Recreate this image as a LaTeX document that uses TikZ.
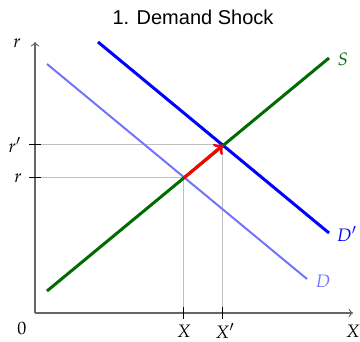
\documentclass[tikz,border=0pt]{standalone}
\usepackage{mathpazo}
\usepackage{fontspec}
\newfontfamily\titlefont{Liberation Sans}
\begin{document}
\begin{tikzpicture}[x=0.5pt,y=-0.5pt,
  axisline/.style={draw=black!60,line width=0.6pt,->},
  guide/.style={draw=black!25,line width=0.5pt},
  tickmark/.style={draw=black,line width=0.5pt},
  curve/.style={line width=1.5pt},
  lbl/.style={inner sep=0pt,font=\small}]
\useasboundingbox (0,0) rectangle (360,342);
\node[font=\titlefont] (title) at (193,17) {1. Demand Shock};
\coordinate (O) at (35,313);
\coordinate (Xend) at (353,313);
\coordinate (Yend) at (35,42);
\coordinate (E) at (184,178);
\coordinate (Ep) at (223,145);
% guides
\draw[guide] (O |- E) -- (E) -- (E |- O);
\draw[guide] (O |- Ep) -- (Ep) -- (Ep |- O);
% axes
\draw[axisline] (O) -- (Xend);
\draw[axisline] (O) -- (Yend);
% ticks
\draw[tickmark] ([xshift=-3pt]O |- E) -- ([xshift=3pt]O |- E);
\draw[tickmark] ([xshift=-3pt]O |- Ep) -- ([xshift=3pt]O |- Ep);
\draw[tickmark] ([yshift=-3pt]E |- O) -- ([yshift=3pt]E |- O);
\draw[tickmark] ([yshift=-3pt]Ep |- O) -- ([yshift=3pt]Ep |- O);
% curves
\coordinate (D1) at (47,64);   \coordinate (D2) at (307,279);
\coordinate (Dp1) at (98,42);  \coordinate (Dp2) at (329,233);
\coordinate (S1) at (47,291);  \coordinate (S2) at (329,58);
\draw[curve,line width=1pt,draw=blue!55!white] (D1) -- (D2);
\draw[curve,draw=blue] (Dp1) -- (Dp2);
\draw[curve,draw=green!42!black] (S1) -- (S2);
\draw[curve,draw=red,->] (E) -- (Ep);
% labels
\node[lbl] (ylab) at (17,43) {$r$};
\node[lbl] (rp) at (15,145) {$r'$};
\node[lbl] (r) at (18,178) {$r$};
\node[lbl] (zero) at (22,328) {$0$};
\node[lbl] (xl) at (184,331) {$X$};
\node[lbl] (xpl) at (225,331) {$X'$};
\node[lbl] (xax) at (353,331) {$X$};
\node[lbl,text=green!42!black] (Sl) at (343,59) {$S$};
\node[lbl,text=blue] (Dpl) at (347,234) {$D'$};
\node[lbl,text=blue!55!white] (Dl) at (323,281) {$D$};
\end{tikzpicture}
\end{document}
